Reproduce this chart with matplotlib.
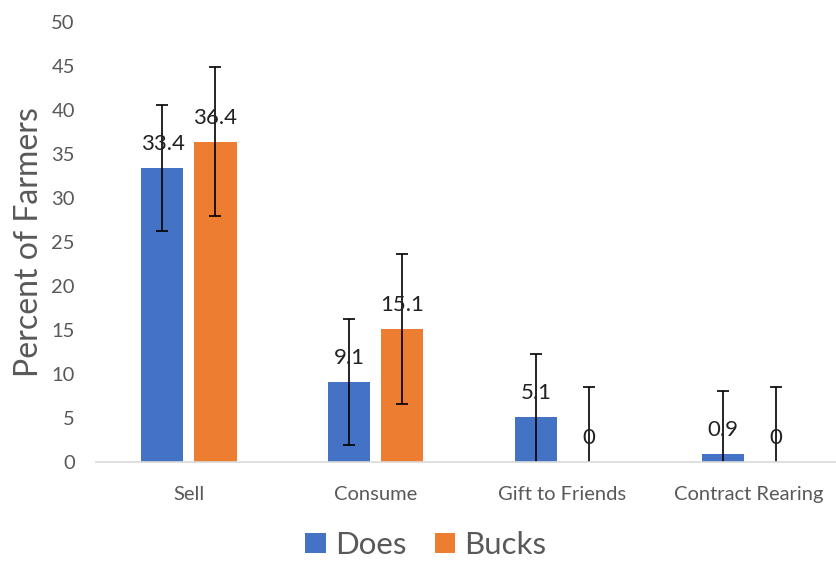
import matplotlib
matplotlib.use("Agg")
import matplotlib.pyplot as plt
import numpy as np

categories = ["Sell", "Consume", "Gift to Friends", "Contract Rearing"]
does = [33.4, 9.1, 5.1, 0.9]
bucks = [36.4, 15.1, 0, 0]
does_err = [7.2, 7.2, 7.2, 7.2]
bucks_err = [8.5, 8.5, 8.5, 8.5]
yticks = [0, 5, 10, 15, 20, 25, 30, 35, 40, 45, 50]

plt.rcParams['font.family'] = ['Lato', 'DejaVu Sans']

fig = plt.figure(figsize=(8.36, 5.61), dpi=100)
ax = fig.add_axes([95.6/836, 1-462/561, 747/836, 440/561])

x = np.arange(len(categories))
w = 0.225
off = 0.142
c_does = "#4472C4"
c_bucks = "#ED7D31"

ax.bar(x - off, does, w, color=c_does, label="Does")
ax.bar(x + off, bucks, w, color=c_bucks, label="Bucks")
ax.errorbar(x - off, does, yerr=does_err, fmt='none', ecolor='black', elinewidth=1.2, capsize=4.5, capthick=1.2)
ax.errorbar(x + off, bucks, yerr=bucks_err, fmt='none', ecolor='black', elinewidth=1.2, capsize=4.5, capthick=1.2)

for xi, v in zip(x - off, does):
    ax.annotate(f"{v:g}", (xi, v), xytext=(0, 10), textcoords="offset points",
                ha="center", va="bottom", fontsize=16, color="#222222")
for xi, v in zip(x + off, bucks):
    ax.annotate(f"{v:g}", (xi, v), xytext=(0, 10), textcoords="offset points",
                ha="center", va="bottom", fontsize=16, color="#222222")

ax.set_xlim(-0.5, 3.5)
ax.set_ylim(0, 50)
ax.set_yticks(yticks)
ax.set_xticks(x)
ax.set_xticklabels(categories)
ax.tick_params(axis='y', length=0, pad=15, labelsize=14.5, labelcolor="#595959")
ax.tick_params(axis='x', length=0, pad=17, labelsize=14.5, labelcolor="#595959")
for s in ["top", "right", "left"]:
    ax.spines[s].set_visible(False)
ax.spines["bottom"].set_color("#D9D9D9")
ax.spines["bottom"].set_linewidth(1.2)
ax.set_ylabel("Percent of Farmers", fontsize=23, color="#595959", labelpad=5)

handles, labels = ax.get_legend_handles_labels()
fig.legend(handles, labels, loc="center", bbox_to_anchor=(426/836, 1-545/561), ncol=2,
           frameon=False, fontsize=22.5, handlelength=0.65, handleheight=0.65,
           handletextpad=0.3, columnspacing=0.9, labelcolor="#595959",
           borderpad=0.1, borderaxespad=0)

fig.savefig("out.png", dpi=100)
